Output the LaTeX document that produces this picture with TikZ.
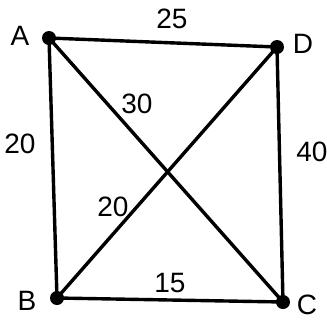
\documentclass[tikz,border=0pt]{standalone}
\usepackage{fontspec}
\setmainfont{Liberation Sans}
\begin{document}
\begin{tikzpicture}[x=1pt,y=-1pt,
  vert/.style={circle,fill=black,inner sep=0pt,minimum size=14pt},
  edge/.style={line width=3.4pt,black},
  lab/.style={font=\fontsize{28}{28}\selectfont,inner sep=0pt}]
\useasboundingbox (0,0) rectangle (327,322);
\node[vert] (A) at (49,38) {};
\node[vert] (D) at (277,47) {};
\node[vert] (B) at (57,298) {};
\node[vert] (C) at (283,302) {};
\draw[edge] (A.center) -- (D.center);
\draw[edge] (A.center) -- (B.center);
\draw[edge] (A.center) -- (C.center);
\draw[edge] (D.center) -- (B.center);
\draw[edge] (D.center) -- (C.center);
\draw[edge] (B.center) -- (C.center);
\node[lab] (lA) at (20,36) {A};
\node[lab] (lD) at (303,44) {D};
\node[lab] (lB) at (27,301) {B};
\node[lab] (lC) at (307,305) {C};
\node[lab] (w1) at (172,19) {25};
\node[lab] (w2) at (137,104) {30};
\node[lab] (w3) at (20,144) {20};
\node[lab] (w4) at (312,152) {40};
\node[lab] (w5) at (113,207) {20};
\node[lab] (w6) at (170,283) {15};
\end{tikzpicture}
\end{document}
